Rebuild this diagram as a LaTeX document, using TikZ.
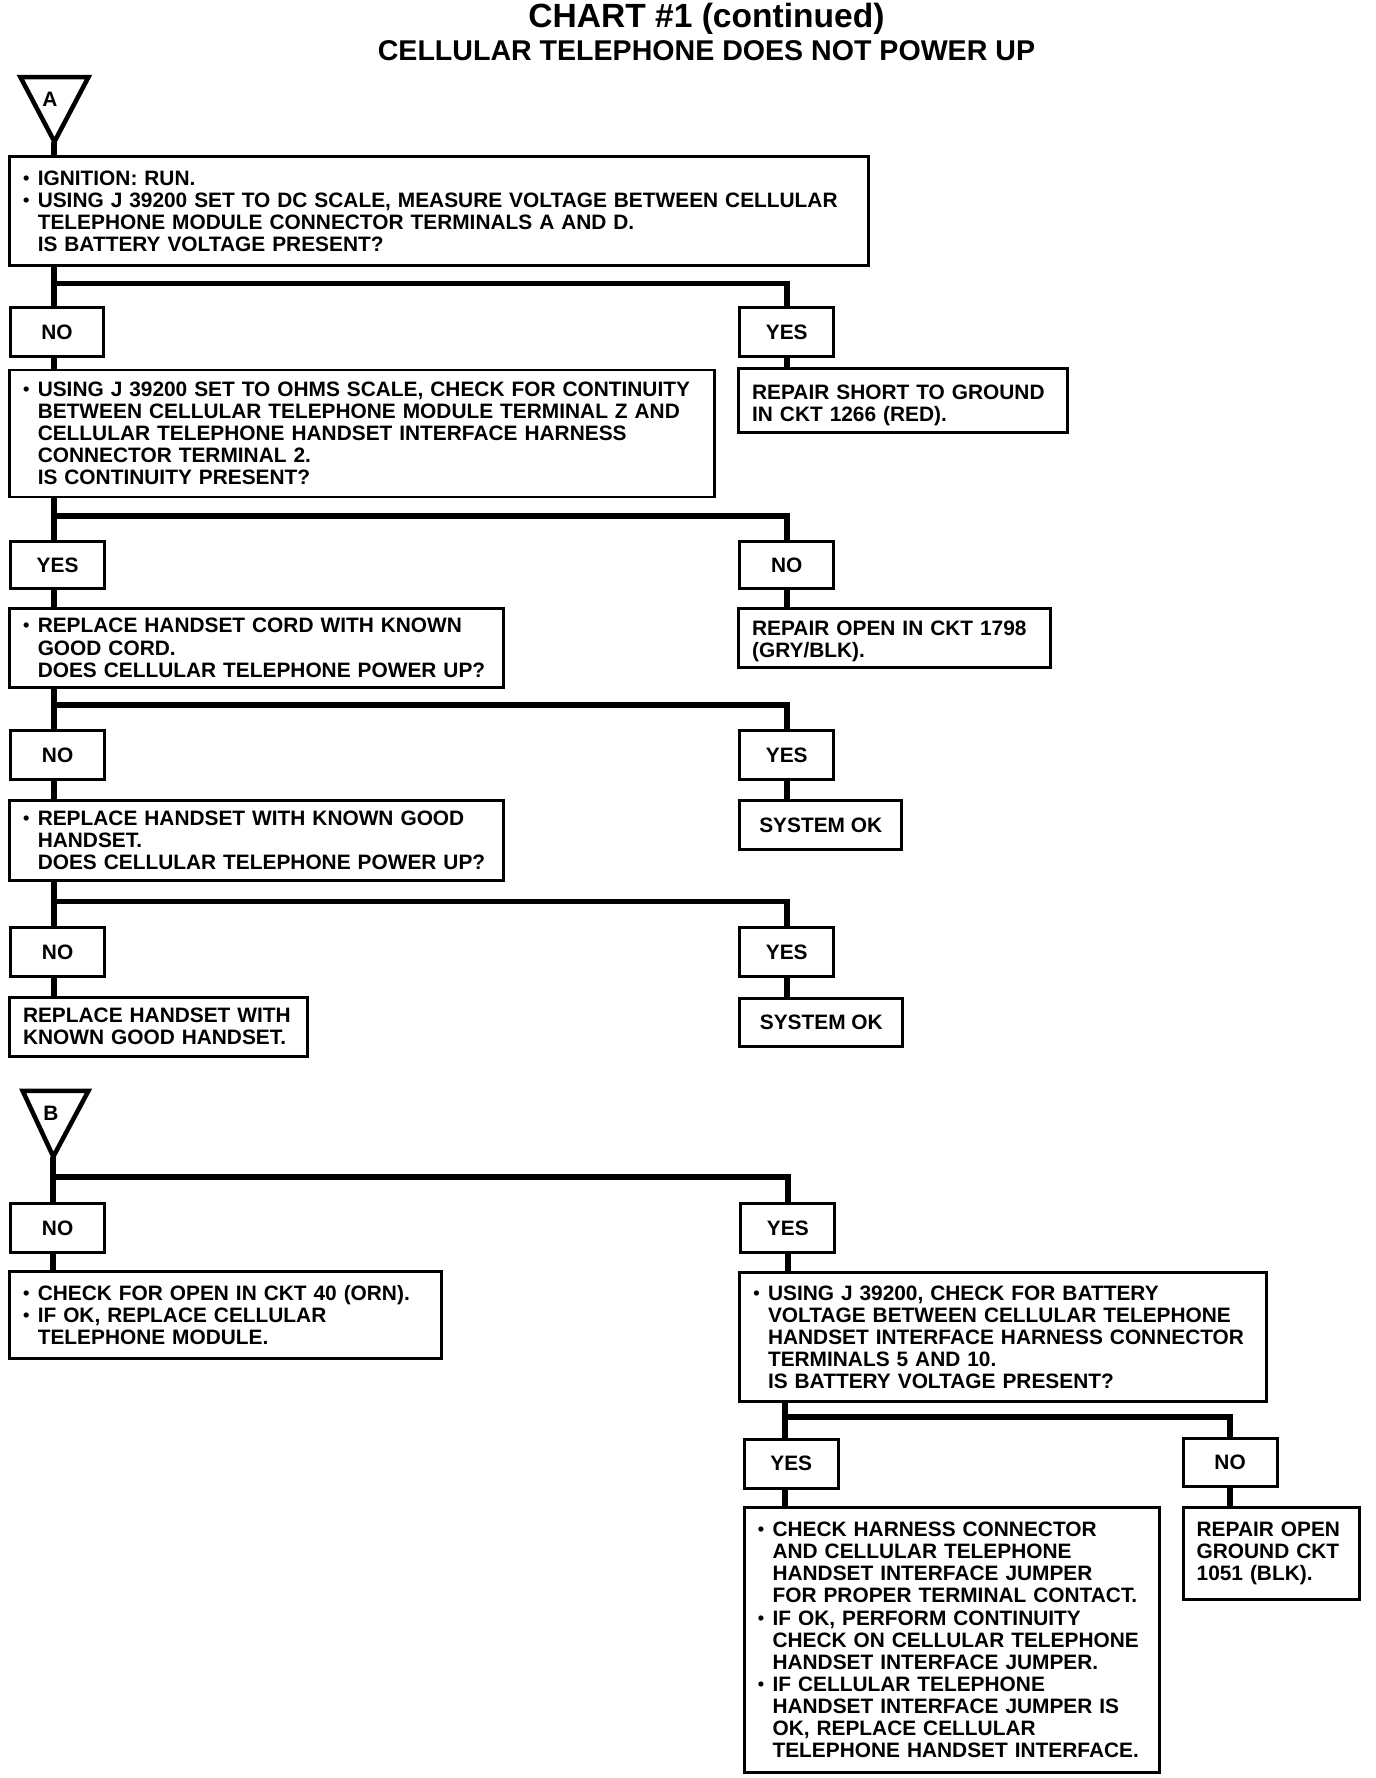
\documentclass[tikz,border=0pt]{standalone}
\usepackage{fontspec}
\setmainfont{Liberation Sans}
\newcommand\boxfont{\fontsize{9.2}{9.75}\selectfont\bfseries}
\newcommand\bu{\makebox[6.5pt][l]{\raisebox{0.05em}{\fontsize{8}{8}\selectfont •}}}
\newcommand\ind{\hspace*{6.5pt}}
\newcommand\myln[1]{\mbox{#1}}
\begin{document}
\begin{tikzpicture}[x=0.5pt,y=-0.5pt,
  bx/.style={draw, line width=1.3pt, anchor=north west, inner xsep=6pt, inner ysep=0pt, align=left, font=\boxfont},
  lbl/.style={draw, line width=1.3pt, anchor=north west, inner sep=0pt, align=center, font=\boxfont},
  conn/.style={line width=2.6pt},
  tri/.style={line width=2pt, line join=miter},
  ttl/.style={font=\bfseries, inner sep=0pt}]
\fill[white] (0,0) rectangle (1213,1568);
\useasboundingbox (0,0) rectangle (1213,1568);

% titles
\node[ttl, font=\fontsize{14.8}{16}\selectfont\bfseries] (title1) at (623,17) {CHART \#1 (continued)};
\node[ttl, font=\fontsize{12.6}{14}\selectfont\bfseries] (title2) at (623,45) {CELLULAR TELEPHONE DOES NOT POWER UP};

% triangle A
\draw[tri] (18,68) -- (78,68) -- (48,125) -- cycle;
\coordinate (apexA) at (48,125);
\node[font=\boxfont, inner sep=0pt] (labA) at (44,88) {A};

% section A
\node[bx, text width=367pt, minimum height=48pt] (b1) at (7,137)
 {\myln{\bu IGNITION: RUN.}\\
  \myln{\bu USING J 39200 SET TO DC SCALE, MEASURE VOLTAGE BETWEEN CELLULAR}\\
  \myln{\ind TELEPHONE MODULE CONNECTOR TERMINALS A AND D.}\\
  \myln{\ind IS BATTERY VOLTAGE PRESENT?}};

\node[lbl, minimum width=41pt, minimum height=21.5pt] (no1) at (8,270) {NO};
\node[lbl, minimum width=41.5pt, minimum height=21.5pt] (yes1) at (651,270) {YES};

\node[bx, text width=299pt, minimum height=56pt] (b2) at (7,325)
 {\myln{\bu USING J 39200 SET TO OHMS SCALE, CHECK FOR CONTINUITY}\\
  \myln{\ind BETWEEN CELLULAR TELEPHONE MODULE TERMINAL Z AND}\\
  \myln{\ind CELLULAR TELEPHONE HANDSET INTERFACE HARNESS}\\
  \myln{\ind CONNECTOR TERMINAL 2.}\\
  \myln{\ind IS CONTINUITY PRESENT?}};
\node[bx, text width=133pt, minimum height=28pt] (r1) at (650,324)
 {\myln{\rule{0pt}{10.6pt}REPAIR SHORT TO GROUND}\\ \myln{IN CKT 1266 (RED).}};

\node[lbl, minimum width=41.5pt, minimum height=21pt] (yes2) at (8,476) {YES};
\node[lbl, minimum width=41.5pt, minimum height=21pt] (no2) at (651,476) {NO};

\node[bx, text width=206pt, minimum height=35pt] (b3) at (7,535)
 {\myln{\bu REPLACE HANDSET CORD WITH KNOWN}\\
  \myln{\ind GOOD CORD.}\\
  \myln{\ind DOES CELLULAR TELEPHONE POWER UP?}};
\node[bx, text width=125.5pt, minimum height=26pt] (r2) at (650,535)
 {\myln{\rule{0pt}{9.8pt}REPAIR OPEN IN CKT 1798}\\ \myln{(GRY/BLK).}};

\node[lbl, minimum width=41.5pt, minimum height=21.5pt] (no3) at (8,643) {NO};
\node[lbl, minimum width=41.5pt, minimum height=21.5pt] (yes3) at (651,643) {YES};

\node[bx, text width=206pt, minimum height=35pt] (b4) at (7,705)
 {\myln{\bu REPLACE HANDSET WITH KNOWN GOOD}\\
  \myln{\ind HANDSET.}\\
  \myln{\ind DOES CELLULAR TELEPHONE POWER UP?}};
\node[lbl, minimum width=71.5pt, minimum height=21.5pt] (ok1) at (651,705) {SYSTEM OK};

\node[lbl, minimum width=41.5pt, minimum height=21.5pt] (no4) at (8,817) {NO};
\node[lbl, minimum width=41.5pt, minimum height=21.5pt] (yes4) at (651,817) {YES};

\node[bx, text width=119.5pt, minimum height=26pt] (b5) at (7,878)
 {\myln{REPLACE HANDSET WITH}\\ \myln{KNOWN GOOD HANDSET.}};
\node[lbl, minimum width=72pt, minimum height=21.5pt] (ok2) at (651,879) {SYSTEM OK};

% triangle B
\draw[tri] (20,962) -- (78,962) -- (47,1020) -- cycle;
\coordinate (apexB) at (47,1020);
\node[font=\boxfont, inner sep=0pt] (labB) at (45,982) {B};

\node[lbl, minimum width=41.5pt, minimum height=21.5pt] (no5) at (8,1060) {NO};
\node[lbl, minimum width=41.5pt, minimum height=21.5pt] (yes5) at (652,1060) {YES};

\node[bx, text width=178.5pt, minimum height=38.5pt] (b6) at (7,1120)
 {\myln{\bu CHECK FOR OPEN IN CKT 40 (ORN).}\\
  \myln{\bu IF OK, REPLACE CELLULAR}\\
  \myln{\ind TELEPHONE MODULE.}};
\node[bx, text width=220.5pt, minimum height=57pt] (b7) at (651,1121)
 {\myln{\bu USING J 39200, CHECK FOR BATTERY}\\
  \myln{\ind VOLTAGE BETWEEN CELLULAR TELEPHONE}\\
  \myln{\ind HANDSET INTERFACE HARNESS CONNECTOR}\\
  \myln{\ind TERMINALS 5 AND 10.}\\
  \myln{\ind IS BATTERY VOLTAGE PRESENT?}};

\node[lbl, minimum width=41.5pt, minimum height=21.5pt] (yes6) at (655,1268) {YES};
\node[lbl, minimum width=41.5pt, minimum height=21.5pt] (no6) at (1042,1267) {NO};

\node[bx, text width=171pt, minimum height=117pt] (b8) at (655,1328)
 {\myln{\bu CHECK HARNESS CONNECTOR}\\
  \myln{\ind AND CELLULAR TELEPHONE}\\
  \myln{\ind HANDSET INTERFACE JUMPER}\\
  \myln{\ind FOR PROPER TERMINAL CONTACT.}\\
  \myln{\bu IF OK, PERFORM CONTINUITY}\\
  \myln{\ind CHECK ON CELLULAR TELEPHONE}\\
  \myln{\ind HANDSET INTERFACE JUMPER.}\\
  \myln{\bu IF CELLULAR TELEPHONE}\\
  \myln{\ind HANDSET INTERFACE JUMPER IS}\\
  \myln{\ind OK, REPLACE CELLULAR}\\
  \myln{\ind TELEPHONE HANDSET INTERFACE.}};
\node[bx, text width=66pt, minimum height=40.5pt] (r3) at (1042,1328)
 {\myln{REPAIR OPEN}\\ \myln{GROUND CKT}\\ \myln{1051 (BLK).}};

% junction coordinates
\coordinate (j1) at (48,250);
\coordinate (j2) at (48,455);
\coordinate (j3) at (48,622);
\coordinate (j4) at (48,795);
\coordinate (j5) at (47,1038);
\coordinate (j6) at (692,1250);

% connectors section A
\draw[conn] (apexA) -- (apexA |- b1.north);
\draw[conn] (j1 |- b1.south) -- (j1 |- no1.north);
\draw[conn] (j1) -| (yes1.north);
\draw[conn] (j1 |- no1.south) -- (j1 |- b2.north);
\draw[conn] (yes1.south) -- (yes1.south |- r1.north);

\draw[conn] (j2 |- b2.south) -- (j2 |- yes2.north);
\draw[conn] (j2) -| (no2.north);
\draw[conn] (j2 |- yes2.south) -- (j2 |- b3.north);
\draw[conn] (no2.south) -- (no2.south |- r2.north);

\draw[conn] (j3 |- b3.south) -- (j3 |- no3.north);
\draw[conn] (j3) -| (yes3.north);
\draw[conn] (j3 |- no3.south) -- (j3 |- b4.north);
\draw[conn] (yes3.south) -- (yes3.south |- ok1.north);

\draw[conn] (j4 |- b4.south) -- (j4 |- no4.north);
\draw[conn] (j4) -| (yes4.north);
\draw[conn] (j4 |- no4.south) -- (j4 |- b5.north);
\draw[conn] (yes4.south) -- (yes4.south |- ok2.north);

% connectors section B
\draw[conn] (apexB) -- (apexB |- no5.north);
\draw[conn] (j5) -| (yes5.north);
\draw[conn] (j5 |- no5.south) -- (j5 |- b6.north);
\draw[conn] (yes5.south) -- (yes5.south |- b7.north);

\draw[conn] (j6 |- b7.south) -- (j6 |- yes6.north);
\draw[conn] (j6) -| (no6.north);
\draw[conn] (j6 |- yes6.south) -- (j6 |- b8.north);
\draw[conn] (no6.south) -- (no6.south |- r3.north);
\end{tikzpicture}
\end{document}
